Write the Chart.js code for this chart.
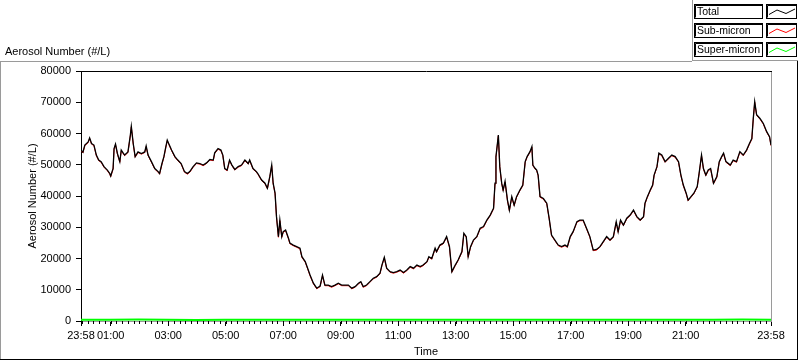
<!DOCTYPE html>
<html>
<head>
<meta charset="utf-8">
<title>Aerosol Number</title>
<script src="https://cdn.jsdelivr.net/npm/chart.js@4/dist/chart.umd.min.js"></script>
<style>
  html, body { margin: 0; padding: 0; background: #fff; }
</style>
</head>
<body>
<canvas id="aerosolGraph" width="800" height="361"></canvas>
<script>
const FONT = "'Liberation Sans', Arial, sans-serif";

// x values are minutes after the first sample (23:58)
const tickMinutes = [0, 62, 182, 302, 422, 542, 662, 782, 902, 1022, 1142, 1262, 1440];
const tickLabels = ["23:58", "01:00", "03:00", "05:00", "07:00", "09:00", "11:00",
  "13:00", "15:00", "17:00", "19:00", "21:00", "23:58"];
const yTickValues = [0, 10000, 20000, 30000, 40000, 50000, 60000, 70000, 80000];

const seriesNames = ["Total", "Sub-micron", "Super-micron"];
const seriesColors = ["#000000", "#ff0000", "#00ff00"];

const minutes = [
  0, 4, 8, 15, 18, 22, 27, 32, 37, 42, 48, 55, 60, 62, 67, 69, 72, 76, 81, 84,
  91, 98, 103, 105, 109, 113, 119, 126, 133, 136, 140, 147, 154, 161, 164, 169, 173, 177, 180, 183,
  189, 196, 202, 209, 216, 222, 227, 234, 241, 248, 255, 262, 269, 276, 279, 286, 292, 296, 300, 305,
  310, 315, 321, 328, 335, 342, 349, 352, 359, 366, 369,
  377, 384, 389, 394, 398, 401, 405, 408, 412, 415, 419, 422, 427, 433, 436, 443, 450, 457, 461, 468,
  473, 478, 485, 492, 499, 504, 509, 516, 523, 530, 537, 544, 551, 558, 565, 572, 579, 584, 589, 596,
  603, 610, 617, 624, 628, 633, 638, 645, 652, 659, 666, 673, 680, 687, 694, 701, 708, 714, 722, 726,
  732, 739,
  742, 749, 756, 763, 769, 774, 781, 787, 795, 799, 804, 808, 813, 819, 826, 833, 840, 847, 854, 861,
  864, 866, 871, 874, 878, 881, 885, 890, 894, 899, 904, 909, 916, 922, 927, 931, 937, 941, 943, 948,
  951, 954, 958, 965, 972, 977, 982, 989, 996, 1003, 1010, 1015, 1021, 1027, 1035, 1041, 1048, 1055, 1062, 1069,
  1076, 1083,
  1090, 1097, 1104, 1111, 1117, 1121, 1126, 1132, 1139, 1146, 1153, 1160, 1167, 1174, 1177, 1182, 1188, 1193, 1196, 1202,
  1206, 1212, 1219, 1226, 1233, 1240, 1247, 1252, 1257, 1263, 1267, 1273, 1279, 1286, 1290, 1295, 1299, 1304, 1309, 1314,
  1320, 1327, 1332, 1337, 1341, 1346, 1355, 1361, 1368, 1375, 1382, 1389, 1395, 1400, 1403, 1406, 1410, 1417, 1424, 1431,
  1437, 1440
];

const total = [
  54700, 54000, 56300, 57300, 58600, 56800, 56300, 53100, 51500, 51000, 49400, 48300, 47200, 46400, 48800, 55200, 56600, 53600, 51000, 54700,
  53100, 54100, 59500, 62300, 56800, 52600, 54100, 53600, 54100, 56000, 53100, 51000, 48800, 47800, 47200, 50400, 52600, 55700, 57900, 56800,
  54700, 52600, 51500, 50400, 47800, 47200, 47800, 49400, 50600, 50400, 49900, 50600, 51700, 51500, 53800, 55200, 54700, 53100, 48800, 48300,
  51500, 49900, 48500, 49400, 49900, 51500, 50400, 51500, 48800, 47800, 47200,
  45100, 44100, 42500, 46200, 49900, 44100, 40900, 33400, 27000, 32300, 27000, 28600, 29100, 26500, 24900, 24300, 23800, 23300, 20600, 19000,
  16900, 14700, 12100, 10500, 11200, 14700, 11500, 11500, 11000, 11500, 12100, 11500, 11500, 11500, 10500, 11000, 12100, 12600, 11000, 11500,
  12600, 13700, 14200, 15300, 17900, 20400, 16900, 15800, 15500, 15800, 16300, 15500, 16300, 17400, 16900, 17900, 17400, 17900, 19000, 20600,
  20000, 23300,
  22200, 24300, 24900, 27000, 23800, 15800, 17900, 19500, 22200, 28100, 27000, 20600, 23800, 25900, 27000, 29700, 30200, 32300, 33900, 36100,
  44100, 52600, 59500, 49400, 44100, 41900, 44700, 38700, 35500, 39800, 37100, 39800, 41900, 43500, 51000, 52600, 54200, 55800, 49900, 48800,
  48300, 46700, 39800, 39200, 37700, 32900, 27500, 25900, 24300, 23800, 24300, 23800, 27000, 28600, 31800, 32300, 32300, 29700, 27000, 22700,
  22900, 23800,
  25400, 27000, 25900, 27000, 31800, 28600, 32300, 30700, 32900, 33900, 35500, 33400, 32300, 33400, 37700, 39800, 41900, 43500, 46700, 49400,
  53700, 53100, 51000, 52100, 53100, 52600, 51000, 46700, 43500, 40900, 38700, 39800, 40900, 43000, 47300, 53100, 48800, 46700, 48300, 48800,
  44100, 46200, 51000, 52600, 53700, 51000, 49900, 51500, 51000, 54200, 53100, 54700, 56800, 58400, 64800, 70200, 66000, 64800, 63200, 60600,
  59000, 56300
];

const subMicron = [
  54500, 53800, 56100, 57100, 58400, 56600, 56100, 52900, 51300, 50800, 49200, 48100, 47000, 46200, 48600, 55000, 56400, 53400, 50800, 54500,
  52900, 53900, 59300, 62100, 56600, 52400, 53900, 53400, 53900, 55800, 52900, 50800, 48600, 47600, 47000, 50200, 52400, 55500, 57700, 56600,
  54500, 52400, 51300, 50200, 47600, 47000, 47600, 49200, 50400, 50200, 49700, 50400, 51500, 51300, 53600, 55000, 54500, 52900, 48600, 48100,
  51300, 49700, 48300, 49200, 49700, 51300, 50200, 51300, 48600, 47600, 47000,
  44900, 43900, 42300, 46000, 49700, 43900, 40700, 33200, 26800, 32100, 26800, 28400, 28900, 26300, 24700, 24100, 23600, 23100, 20400, 18800,
  16700, 14500, 11900, 10300, 11000, 14500, 11300, 11300, 10800, 11300, 11900, 11300, 11300, 11300, 10300, 10800, 11900, 12400, 10800, 11300,
  12400, 13500, 14000, 15100, 17700, 20200, 16700, 15600, 15300, 15600, 16100, 15300, 16100, 17200, 16700, 17700, 17200, 17700, 18800, 20400,
  19800, 23100,
  22000, 24100, 24700, 26800, 23600, 15600, 17700, 19300, 22000, 27900, 26800, 20400, 23600, 25700, 26800, 29500, 30000, 32100, 33700, 35900,
  43900, 52400, 59300, 49200, 43900, 41700, 44500, 38500, 35300, 39600, 36900, 39600, 41700, 43300, 50800, 52400, 54000, 55600, 49700, 48600,
  48100, 46500, 39600, 39000, 37500, 32700, 27300, 25700, 24100, 23600, 24100, 23600, 26800, 28400, 31600, 32100, 32100, 29500, 26800, 22500,
  22700, 23600,
  25200, 26800, 25700, 26800, 31600, 28400, 32100, 30500, 32700, 33700, 35300, 33200, 32100, 33200, 37500, 39600, 41700, 43300, 46500, 49200,
  53500, 52900, 50800, 51900, 52900, 52400, 50800, 46500, 43300, 40700, 38500, 39600, 40700, 42800, 47100, 52900, 48600, 46500, 48100, 48600,
  43900, 46000, 50800, 52400, 53500, 50800, 49700, 51300, 50800, 54000, 52900, 54500, 56600, 58200, 64600, 70000, 65800, 64600, 63000, 60400,
  58800, 56100
];

const superMinutes = [0, 60, 120, 180, 240, 300, 360, 420, 480, 540, 600, 660, 720,
  780, 840, 900, 960, 1020, 1080, 1140, 1200, 1260, 1320, 1380, 1440];
const superMicron = [420, 380, 450, 400, 360, 410, 390, 430, 370, 400, 420, 380, 410,
  440, 400, 370, 410, 390, 420, 400, 380, 430, 400, 450, 420];

const toPoints = (xs, ys) => xs.map((m, i) => ({ x: m, y: ys[i] }));

// frame, minor ticks, top caption and the LabVIEW style legend
const graphFrame = {
  id: "graphFrame",
  afterDraw(chart) {
    const { ctx, chartArea: a, scales: { x } } = chart;
    ctx.save();
    ctx.lineWidth = 1;

    // minor ticks every 12 minutes of clock time
    ctx.strokeStyle = "#000";
    ctx.beginPath();
    for (let m = 2; m < 1440; m += 12) {
      const px = Math.round(x.getPixelForValue(m)) + 0.5;
      ctx.moveTo(px, a.bottom);
      ctx.lineTo(px, a.bottom + 3);
    }
    ctx.stroke();

    // plot box: dark top, light right
    ctx.beginPath();
    ctx.moveTo(a.left, a.top + 0.5);
    ctx.lineTo(a.right + 1, a.top + 0.5);
    ctx.stroke();
    ctx.strokeStyle = "#9a9a9a";
    ctx.beginPath();
    ctx.moveTo(a.right + 0.5, a.top + 1);
    ctx.lineTo(a.right + 0.5, a.bottom + 1);
    ctx.stroke();

    // outer frame
    ctx.beginPath();
    ctx.moveTo(0, 61.5);
    ctx.lineTo(692, 61.5);
    ctx.moveTo(0.5, 61.5);
    ctx.lineTo(0.5, 360);
    ctx.moveTo(692.5, 0);
    ctx.lineTo(692.5, 61);
    ctx.moveTo(692.5, 60.5);
    ctx.lineTo(798, 60.5);
    ctx.stroke();
    ctx.strokeStyle = "#000";
    ctx.beginPath();
    ctx.moveTo(0, 359.5);
    ctx.lineTo(798, 359.5);
    ctx.moveTo(797.5, 61);
    ctx.lineTo(797.5, 360);
    ctx.stroke();

    // caption above the plot
    ctx.fillStyle = "#000";
    ctx.font = "11px " + FONT;
    ctx.textAlign = "left";
    ctx.textBaseline = "middle";
    ctx.fillText("Aerosol Number (#/L)", 5, 52);

    // legend
    ctx.font = "10.5px " + FONT;
    seriesNames.forEach((name, i) => {
      const top = 4.5 + i * 19;
      ctx.fillStyle = "#fff";
      ctx.fillRect(694, top, 69, 14);
      ctx.fillRect(766, top, 31, 14);
      ctx.strokeStyle = "#000";
      ctx.strokeRect(694.5, top, 68, 14);
      ctx.strokeRect(766.5, top, 30, 14);
      ctx.beginPath();
      ctx.moveTo(695.5, top + 13);
      ctx.lineTo(695.5, top + 1);
      ctx.lineTo(762, top + 1);
      ctx.moveTo(767.5, top + 13);
      ctx.lineTo(767.5, top + 1);
      ctx.lineTo(796, top + 1);
      ctx.stroke();

      ctx.fillStyle = "#000";
      ctx.fillText(name, 697, top + 7.5);

      ctx.strokeStyle = seriesColors[i];
      ctx.beginPath();
      ctx.moveTo(769, top + 10);
      ctx.lineTo(777, top + 5.5);
      ctx.lineTo(786, top + 9);
      ctx.lineTo(795, top + 4.5);
      ctx.stroke();
    });
    ctx.restore();
  }
};

new Chart(document.getElementById("aerosolGraph"), {
  type: "line",
  data: {
    datasets: [
      { label: seriesNames[0], data: toPoints(minutes, total), borderColor: seriesColors[0], borderWidth: 1.3 },
      { label: seriesNames[1], data: toPoints(minutes, subMicron), borderColor: seriesColors[1], borderWidth: 1 },
      { label: seriesNames[2], data: toPoints(superMinutes, superMicron), borderColor: seriesColors[2], borderWidth: 2 }
    ]
  },
  options: {
    responsive: false,
    animation: false,
    events: [],
    parsing: false,
    elements: { point: { radius: 0 }, line: { tension: 0, fill: false } },
    layout: { padding: { left: 0, top: 71, right: 29, bottom: 0 } },
    plugins: { legend: { display: false }, tooltip: { enabled: false } },
    scales: {
      x: {
        type: "linear",
        min: 0,
        max: 1440,
        afterBuildTicks: (s) => { s.ticks = tickMinutes.map((v) => ({ value: v })); },
        afterFit: (s) => { s.height = 40; s.paddingLeft = 0; s.paddingRight = 0; },
        ticks: {
          autoSkip: false,
          maxRotation: 0,
          padding: 3,
          color: "#000",
          font: { family: FONT, size: 11 },
          callback: (v, i) => tickLabels[i]
        },
        grid: { drawOnChartArea: false, drawTicks: true, tickLength: 5, color: "#000" },
        border: { display: true, color: "#9a9a9a" },
        title: {
          display: true,
          text: "Time",
          color: "#000",
          font: { family: FONT, size: 11 },
          padding: { top: 0, bottom: 2.4 }
        }
      },
      y: {
        min: 0,
        max: 80000,
        afterBuildTicks: (s) => { s.ticks = yTickValues.map((v) => ({ value: v })); },
        afterFit: (s) => { s.width = 81; s.paddingTop = 0; s.paddingBottom = 0; },
        ticks: {
          padding: 5,
          color: "#000",
          font: { family: FONT, size: 11 },
          callback: (v) => String(v)
        },
        grid: { drawOnChartArea: false, drawTicks: true, tickLength: 5, color: "#000" },
        border: { display: true, color: "#000" },
        title: {
          display: true,
          text: "Aerosol Number (#/L)",
          color: "#000",
          font: { family: FONT, size: 11 },
          padding: { top: 26.4, bottom: 0 }
        }
      }
    }
  },
  plugins: [graphFrame]
});
</script>
</body>
</html>
